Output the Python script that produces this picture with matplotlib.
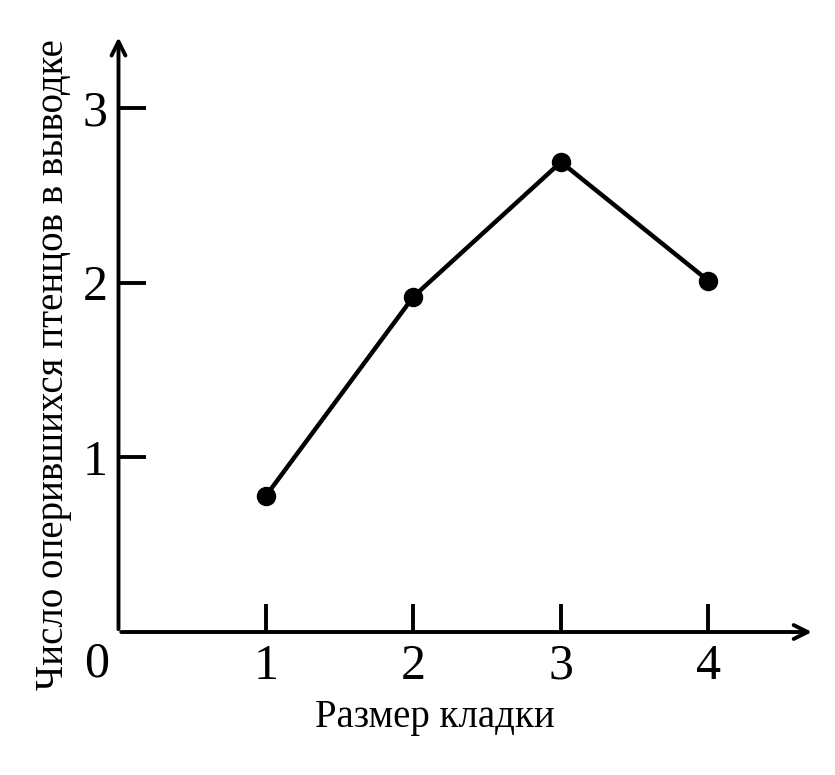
import matplotlib
matplotlib.use("Agg")
import matplotlib.pyplot as plt

clutch_size = [1, 2, 3, 4]
fledglings = [0.78, 1.92, 2.69, 2.01]
xtick_labels = ["1", "2", "3", "4"]
yticks = [1, 2, 3]

plt.rcParams['font.family'] = ['Liberation Serif', 'DejaVu Serif']
fig = plt.figure(figsize=(8.35, 7.75), dpi=100)
ax = fig.add_axes([0.1419, 0.1845, 0.8479, 0.789])
ax.set_xlim(0, 4.8)
ax.set_ylim(0, 3.5)
for s in ax.spines.values():
    s.set_visible(False)
ax.annotate("", xy=(4.72, 0), xytext=(0, 0),
            arrowprops=dict(arrowstyle="->", lw=2.8, color="black", mutation_scale=25), annotation_clip=False)
ax.annotate("", xy=(0, 3.42), xytext=(0, 0),
            arrowprops=dict(arrowstyle="->", lw=2.8, color="black", mutation_scale=25), annotation_clip=False)
ax.plot(clutch_size, fledglings, color="black", lw=3.2, marker="o", markersize=13, zorder=3)
ax.set_xticks(clutch_size)
ax.set_xticklabels(xtick_labels)
ax.set_yticks(yticks)
ax.set_yticklabels([str(v) for v in yticks])
ax.tick_params(axis="both", direction="in", length=20, width=2.8, labelsize=36, pad=8)
ax.text(-0.15, -0.05, "0", fontsize=36, ha="center", va="top")
ax.set_xlabel("Размер кладки", fontsize=28)
ax.xaxis.set_label_coords(0.447, -0.11)
ax.set_ylabel("Число оперившихся птенцов в выводке", fontsize=28)
ax.yaxis.set_label_coords(-0.065, 0.437)
fig.savefig("out.png", dpi=100)
